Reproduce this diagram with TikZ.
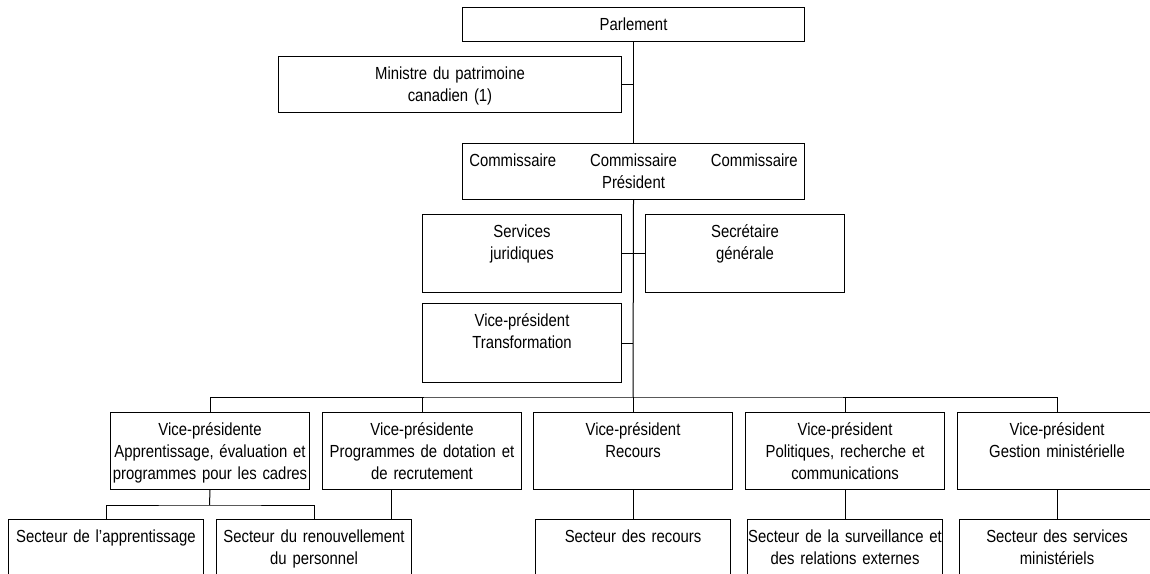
\documentclass[tikz,border=0pt]{standalone}
\usepackage{fontspec}
\setmainfont[FakeStretch=0.85]{Liberation Sans}
\usepackage{tikz}

\tikzset{
  unit/.style={draw, line width=1pt, inner sep=0pt, anchor=north west, align=center,
    font=\fontsize{17.5}{22}\selectfont, text height=22.5pt},
  headbox/.style={unit, text width=342pt},
  dirbox/.style={unit, text width=199pt, text depth=55.5pt},
  vpbox/.style={unit, text width=199pt, text depth=54.5pt},
  secbox/.style={unit, text width=195pt, text depth=40pt},
  link/.style={line width=1pt}
}

\begin{document}
\begin{tikzpicture}[x=1pt,y=-1pt]
        \useasboundingbox (0,0) rectangle (1150,573);
        \clip (0,0) rectangle (1150,573);

        %%% TOP %%%
        \node[headbox, text depth=11.5pt] (parl) at (462,7) {Parlement};
        \node[headbox, text width=343pt, text depth=33.5pt] (min) at (278,56) {Ministre du patrimoine\\canadien (1)};
        \node[headbox, text depth=33.5pt] (comm) at (462,143)
          {\begin{tabular}[t]{@{}c@{\hspace{34pt}}c@{\hspace{34pt}}c@{}}
             Commissaire & Commissaire & Commissaire\\
                         & Président   &
           \end{tabular}};

        %%% STAFF %%%
        \node[dirbox] (serv) at (422,214) {Services\\juridiques};
        \node[dirbox] (sec) at (645,214) {Secrétaire\\générale};
        \node[dirbox, text depth=56.5pt] (trans) at (422,303) {Vice-président\\Transformation};

        %%% VICE-PRESIDENTS %%%
        \node[vpbox] (vp1) at (110,412) {Vice-présidente\\Apprentissage, évaluation et\\programmes pour les cadres};
        \node[vpbox] (vp2) at (322,412) {Vice-présidente\\Programmes de dotation et\\de recrutement};
        \node[vpbox] (vp3) at (533,412) {Vice-président\\Recours};
        \node[vpbox] (vp4) at (745,412) {Vice-président\\Politiques, recherche et\\communications};
        \node[vpbox] (vp5) at (957,412) {Vice-président\\Gestion ministérielle};

        %%% SECTORS %%%
        \node[secbox] (sec1) at (8,519) {Secteur de l'apprentissage};
        \node[secbox] (sec2) at (216,519) {Secteur du renouvellement\\du personnel};
        \node[secbox] (sec3) at (535,519) {Secteur des recours};
        \node[secbox] (sec4) at (747,519) {Secteur de la surveillance et\\des relations externes};
        \node[secbox] (sec5) at (959,519) {Secteur des services\\ministériels};

        %%% LINKS %%%
        \coordinate (bus) at (633,397);
        \coordinate (sub) at (209.5,505);
        \coordinate (drop) at ([xshift=-30.5pt]vp2.south);

        \draw[link] (parl.south) -- (comm.north);
        \draw[link] (min.east) -- (min.east -| parl.south);
        \draw[link] (comm.south) -- (bus);
        \draw[link] (serv.east) -- (sec.west);
        \draw[link] (trans.east) -- (trans.east -| bus);
        \draw[link] (vp1.north) |- (bus) -| (vp5.north);
        \foreach \v in {vp2,vp3,vp4}
          \draw[link] (\v.north) -- (\v.north |- bus);

        \draw[link] (vp1.south) -- (sub);
        \draw[link] (sec1.north) |- (sub) -| (sec2.north);
        \draw[link] (drop) -- (drop |- sec2.north);
        \foreach \v/\s in {vp3/sec3,vp4/sec4,vp5/sec5}
          \draw[link] (\v.south) -- (\v.south |- \s.north);
    \end{tikzpicture}
\end{document}
